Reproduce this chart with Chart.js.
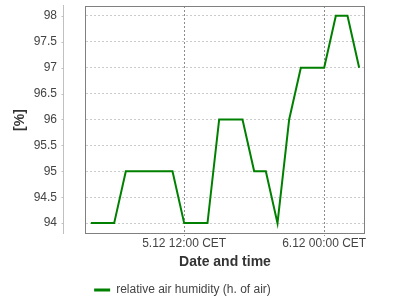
<!DOCTYPE html>
<html>
<head>
<meta charset="utf-8">
<script src="https://cdn.jsdelivr.net/npm/chart.js@4/dist/chart.umd.min.js"></script>
<style>
html,body{margin:0;padding:0;background:#fff;}
#wrap{width:400px;height:300px;}
</style>
</head>
<body>
<div id="wrap"><canvas id="c" width="400" height="300"></canvas></div>
<script>
// hours since 5.12 00:00 CET
const hours = [4,5,6,7,8,9,10,11,12,13,14,15,16,17,18,19,20,21,22,23,24,25,26,27];
const humidity = [94,94,94,95,95,95,95,95,94,94,94,96,96,96,95,95,94,96,97,97,97,98,98,97];
const xTickValues = [12, 24];
const xTickLabels = ['5.12 12:00 CET', '6.12 00:00 CET'];
const yTickValues = [94, 94.5, 95, 95.5, 96, 96.5, 97, 97.5, 98];
const seriesName = 'relative air humidity (h. of air)';

const FONT = 'Liberation Sans, Arial, sans-serif';

const frame = {
  id: 'frame',
  afterDraw(chart) {
    const ctx = chart.ctx, a = chart.chartArea;
    const ys = chart.scales.y;
    ctx.save();
    ctx.setLineDash([]);
    ctx.lineWidth = 1;
    // detached y axis line
    const ax = 63.5;
    ctx.strokeStyle = '#c0c0c0';
    ctx.beginPath();
    ctx.moveTo(ax, a.top - 1);
    ctx.lineTo(ax, a.bottom);
    yTickValues.forEach(v => {
      const y = Math.round(ys.getPixelForValue(v)) + 0.5;
      ctx.moveTo(ax - 2, y);
      ctx.lineTo(ax, y);
    });
    ctx.stroke();
    // plot border
    ctx.strokeStyle = '#808080';
    ctx.strokeRect(Math.round(a.left) + 0.5, Math.round(a.top) + 0.5,
                   Math.round(a.right - a.left) - 1, Math.round(a.bottom - a.top) - 1);
    ctx.restore();
  }
};

new Chart(document.getElementById('c'), {
  type: 'line',
  data: {
    datasets: [{
      label: seriesName,
      data: hours.map((h, i) => ({x: h, y: humidity[i]})),
      borderColor: '#008000',
      backgroundColor: '#008000',
      borderWidth: 2,
      pointRadius: 0,
      tension: 0,
      fill: false
    }]
  },
  options: {
    responsive: false,
    animation: false,
    layout: {padding: {top: 6, right: 35, left: 0, bottom: -6}},
    plugins: {
      legend: {
        position: 'bottom',
        labels: {
          boxWidth: 16,
          boxHeight: 3,
          color: '#444',
          padding: 5,
          font: {family: FONT, size: 12},
          generateLabels() {
            return [{text: seriesName, fillStyle: '#008000', strokeStyle: '#008000', lineWidth: 0, datasetIndex: 0, fontColor: '#444'}];
          }
        }
      },
      tooltip: {enabled: false}
    },
    scales: {
      x: {
        type: 'linear',
        min: 3.5,
        max: 27.5,
        afterBuildTicks(s) { s.ticks = xTickValues.map(v => ({value: v})); },
        afterFit(s) { s.height = 45; },
        ticks: {
          autoSkip: false,
          maxRotation: 0,
          padding: 0,
          color: '#444',
          font: {family: FONT, size: 12},
          callback(v) { const i = xTickValues.indexOf(v); return i >= 0 ? xTickLabels[i] : ''; }
        },
        grid: {
          color: '#8c8c8c',
          lineWidth: 1,
          drawTicks: true,
          tickLength: 2,
          tickColor: '#8c8c8c'
        },
        border: {display: true, color: 'rgba(0,0,0,0)', dash: [2, 2]},
        title: {
          display: true,
          text: 'Date and time',
          color: '#333',
          font: {family: FONT, size: 14, weight: 'bold'},
          padding: {top: 2, bottom: 8}
        }
      },
      y: {
        type: 'linear',
        min: 93.79,
        max: 98.19,
        afterBuildTicks(s) { s.ticks = yTickValues.map(v => ({value: v})); },
        afterFit(s) { s.width = 85; s.paddingTop = 0; s.paddingBottom = 0; },
        ticks: {
          padding: 28,
          color: '#444',
          font: {family: FONT, size: 12},
          callback(v) { return String(v); }
        },
        grid: {
          color: '#cccccc',
          lineWidth: 1,
          drawTicks: false
        },
        border: {display: true, color: 'rgba(0,0,0,0)', dash: [2, 2]},
        title: {
          display: true,
          text: '[%]',
          color: '#333',
          font: {family: FONT, size: 14, weight: 'bold'},
          padding: {top: 12, bottom: 0}
        }
      }
    }
  },
  plugins: [frame]
});
</script>
</body>
</html>
